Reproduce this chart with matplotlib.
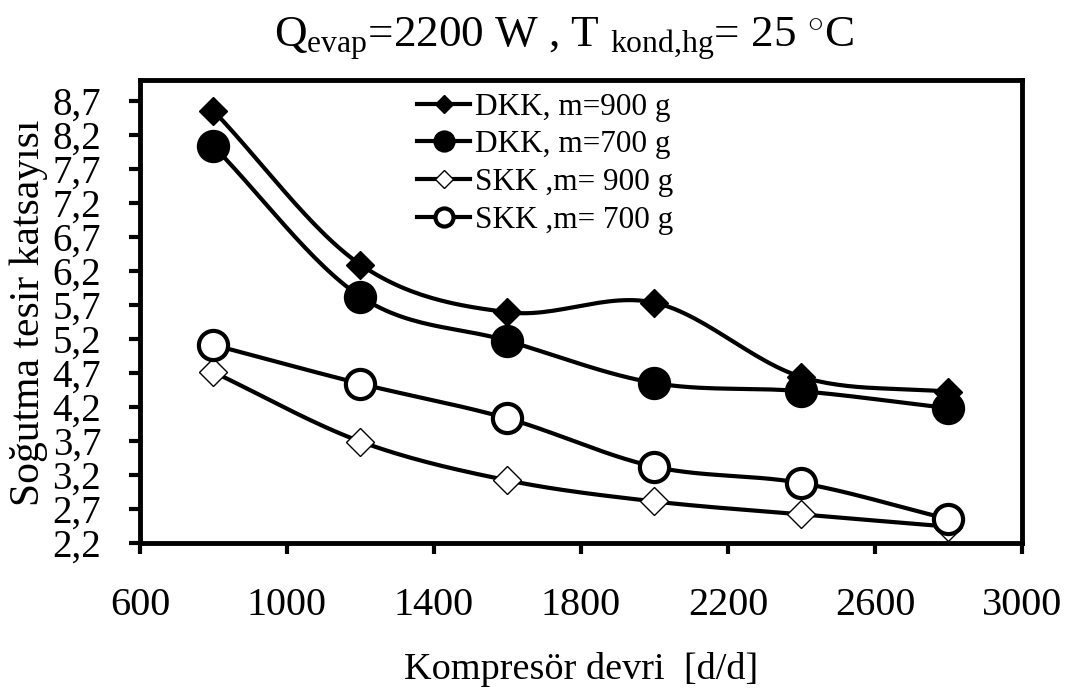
import numpy as np
import matplotlib
matplotlib.use("Agg")
import matplotlib.pyplot as plt
from matplotlib.lines import Line2D

plt.rcParams['font.family'] = ['Liberation Serif', 'DejaVu Serif']
plt.rcParams['mathtext.fontset'] = 'custom'
plt.rcParams['mathtext.rm'] = 'Liberation Serif'
plt.rcParams['mathtext.it'] = 'Liberation Serif'

# data
devir = [800, 1200, 1600, 2000, 2400, 2800]
dkk_900 = [8.55, 6.29, 5.59, 5.73, 4.64, 4.42]
dkk_700 = [8.03, 5.82, 5.17, 4.55, 4.43, 4.18]
skk_900 = [4.71, 3.69, 3.12, 2.81, 2.62, 2.44]
skk_700 = [5.11, 4.54, 4.03, 3.32, 3.08, 2.55]
labels = ['DKK, m=900 g', 'DKK, m=700 g', 'SKK ,m= 900 g', 'SKK ,m= 700 g']
yticks = [2.2 + 0.5 * i for i in range(14)]
xticks = [600, 1000, 1400, 1800, 2200, 2600, 3000]


def smooth(x, y, n=30):
    # excel-like smoothed line (catmull-rom)
    x = np.asarray(x, float); y = np.asarray(y, float)
    px = np.concatenate([[2 * x[0] - x[1]], x, [2 * x[-1] - x[-2]]])
    py = np.concatenate([[2 * y[0] - y[1]], y, [2 * y[-1] - y[-2]]])
    xs, ys = [], []
    t = np.linspace(0, 1, n)
    for i in range(1, len(px) - 2):
        p0, p1, p2, p3 = (np.array([px[j], py[j]]) for j in range(i - 1, i + 3))
        for tt in t:
            pt = 0.5 * ((2 * p1) + (-p0 + p2) * tt + (2 * p0 - 5 * p1 + 4 * p2 - p3) * tt ** 2
                        + (-p0 + 3 * p1 - 3 * p2 + p3) * tt ** 3)
            xs.append(pt[0]); ys.append(pt[1])
    return xs, ys


fig = plt.figure(figsize=(10.76, 6.97), dpi=100)
ax = fig.add_axes([0.1301, 0.221, 0.8197, 0.664])

series = [dkk_900, dkk_700, skk_900, skk_700]
markers = ['D', 'o', 'D', 'o']
sizes = [14, 21, 14, 21]
faces = ['black', 'black', 'white', 'white']
handles = []
for vals, m, s, fc, lab in zip(series, markers, sizes, faces, labels):
    sx, sy = smooth(devir, vals)
    ax.plot(sx, sy, color='black', lw=3, zorder=2)
    mew = 1.0 if m == 'D' else 3
    ax.plot(devir, vals, ls='none', marker=m, ms=s, mfc=fc, mec='black', mew=mew, zorder=3)
    handles.append(Line2D([], [], color='black', lw=3, marker=m, ms=s * 0.62,
                          mfc=fc, mec='black', mew=mew, label=lab))

ax.set_xlim(600, 3000)
ax.set_ylim(2.2, 9.0)
ax.set_xticks(xticks)
ax.set_yticks(yticks)
ax.set_yticklabels([('%.1f' % v).replace('.', ',') for v in yticks])
ax.tick_params(axis='both', direction='out', width=3, length=8)
ax.tick_params(axis='x', pad=24, labelsize=29)
ax.tick_params(axis='y', pad=20, labelsize=28)
for sp in ax.spines.values():
    sp.set_linewidth(3.5)

ax.set_xlabel('Kompresör devri  [d/d]', fontsize=27.5, labelpad=20)
ax.set_ylabel('Soğutma tesir katsayısı', fontsize=30)
ax.yaxis.set_label_coords(-0.104, 0.497)
ax.set_title(r'Q$_{\mathrm{evap}}$=2200 W , T $_{\mathrm{kond{,}hg}}$= 25 $^{\circ}$C',
             fontsize=32.5, pad=24, x=0.48)

leg = ax.legend(handles=handles, loc='upper left', bbox_to_anchor=(0.30, 1.0), frameon=False,
                fontsize=22.5, handlelength=1.7, handletextpad=0.15, labelspacing=0.28,
                borderaxespad=0.2, borderpad=0.2)

fig.savefig('out.png', dpi=100)
